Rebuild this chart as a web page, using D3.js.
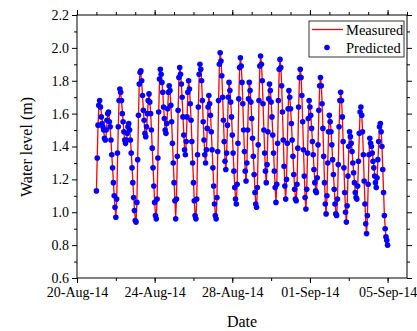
<!DOCTYPE html>
<html>
<head>
<meta charset="utf-8">
<script src="https://cdn.jsdelivr.net/npm/d3@7"></script>
<style>
  body { margin: 0; background: #fff; }
  svg { display: block; font-family: "Liberation Serif", "DejaVu Serif", serif; }
</style>
</head>
<body>
<svg id="chart" width="417" height="331"></svg>
<script>
// hourly water levels, first sample 21-Aug-2014 00:00
const startTime = Date.UTC(2014, 7, 21, 0);

const measured = [
  1.13,1.33,1.53,1.64,1.67,1.65,1.61,1.57,1.53,1.49,1.46,1.44,1.47,1.54,1.59,1.60,1.57,1.51,1.44,1.35,1.27,1.18,1.10,1.03,
  0.97,1.06,1.28,1.51,1.68,1.74,1.72,1.68,1.62,1.55,1.49,1.43,1.40,1.43,1.47,1.51,1.54,1.51,1.45,1.37,1.28,1.19,1.10,1.02,0.96,
  0.94,1.05,1.31,1.58,1.79,1.86,1.84,1.79,1.71,1.63,1.55,1.49,1.45,1.50,1.59,1.67,1.72,1.68,1.61,1.51,1.39,1.28,1.17,1.06,0.99,
  0.96,1.07,1.32,1.60,1.80,1.87,1.85,1.80,1.73,1.65,1.57,1.51,1.47,1.53,1.62,1.72,1.78,1.74,1.66,1.55,1.43,1.31,1.19,1.08,
  0.97,1.08,1.33,1.61,1.81,1.88,1.85,1.78,1.69,1.58,1.48,1.39,1.34,1.42,1.57,1.72,1.80,1.76,1.67,1.57,1.44,1.31,1.19,1.07,0.99,
  0.96,1.07,1.34,1.63,1.83,1.91,1.88,1.80,1.69,1.56,1.45,1.35,1.29,1.37,1.50,1.63,1.71,1.67,1.60,1.50,1.39,1.28,1.16,1.06,0.99,
  0.96,1.08,1.36,1.67,1.89,1.97,1.93,1.84,1.71,1.57,1.43,1.32,1.25,1.35,1.52,1.69,1.79,1.75,1.68,1.59,1.48,1.37,1.26,1.16,1.09,
  1.06,1.17,1.41,1.68,1.87,1.94,1.90,1.80,1.67,1.51,1.37,1.26,1.18,1.29,1.49,1.68,1.79,1.75,1.68,1.58,1.46,1.35,1.24,1.13,1.06,
  1.03,1.14,1.40,1.67,1.88,1.95,1.91,1.81,1.67,1.51,1.37,1.25,1.17,1.28,1.48,1.68,1.79,1.75,1.68,1.59,1.48,1.37,1.26,1.16,
  1.06,1.16,1.41,1.67,1.86,1.93,1.89,1.78,1.62,1.45,1.29,1.16,1.07,1.19,1.41,1.62,1.74,1.71,1.64,1.55,1.45,1.35,1.24,1.15,1.09,
  1.06,1.16,1.38,1.63,1.81,1.87,1.83,1.72,1.56,1.39,1.23,1.10,1.01,1.13,1.35,1.56,1.68,1.65,1.60,1.52,1.44,1.36,1.27,1.19,1.14,
  1.12,1.20,1.40,1.61,1.76,1.82,1.78,1.67,1.52,1.35,1.19,1.06,0.98,1.09,1.29,1.48,1.59,1.56,1.50,1.42,1.33,1.24,1.15,1.06,1.00,
  0.98,1.07,1.28,1.51,1.67,1.73,1.69,1.59,1.44,1.28,1.13,1.01,0.93,1.03,1.21,1.39,1.49,1.47,1.43,1.38,1.31,1.25,1.19,1.13,1.10,
  1.08,1.15,1.30,1.47,1.60,1.64,1.60,1.50,1.36,1.20,1.06,0.94,0.86,0.97,1.16,1.34,1.45,1.43,1.41,1.37,1.32,1.28,1.23,1.19,
  1.15,1.20,1.31,1.42,1.51,1.54,1.50,1.41,1.27,1.13,0.99,0.91,0.85,0.82,0.80
];

const predicted = [
  1.13,1.33,1.53,1.65,1.68,1.64,1.58,1.54,1.52,1.50,1.45,1.44,1.50,1.56,1.60,1.61,1.55,1.52,1.44,1.35,1.27,1.18,1.10,1.03,
  0.97,1.08,1.36,1.52,1.68,1.75,1.73,1.68,1.60,1.55,1.49,1.44,1.42,1.44,1.48,1.52,1.54,1.50,1.44,1.36,1.27,1.18,1.09,1.01,0.95,
  0.94,1.06,1.32,1.59,1.78,1.85,1.86,1.80,1.71,1.62,1.56,1.48,1.46,1.52,1.60,1.68,1.72,1.67,1.60,1.50,1.39,1.27,1.16,1.06,0.98,
  0.96,1.08,1.33,1.61,1.81,1.87,1.84,1.79,1.73,1.64,1.57,1.50,1.48,1.54,1.63,1.73,1.77,1.74,1.65,1.55,1.42,1.30,1.18,1.07,
  0.96,1.08,1.34,1.62,1.82,1.88,1.84,1.78,1.70,1.58,1.47,1.38,1.35,1.43,1.58,1.73,1.80,1.75,1.66,1.56,1.43,1.30,1.18,1.07,0.98,
  0.96,1.08,1.35,1.64,1.84,1.90,1.87,1.80,1.68,1.55,1.44,1.35,1.30,1.38,1.51,1.64,1.71,1.66,1.59,1.49,1.38,1.27,1.16,1.05,0.98,
  0.96,1.09,1.37,1.68,1.90,1.97,1.92,1.83,1.70,1.56,1.43,1.31,1.26,1.36,1.53,1.70,1.79,1.74,1.67,1.58,1.47,1.36,1.25,1.15,1.08,
  1.05,1.17,1.42,1.69,1.88,1.94,1.89,1.79,1.66,1.50,1.37,1.25,1.19,1.30,1.50,1.69,1.79,1.74,1.67,1.57,1.45,1.34,1.23,1.12,1.05,
  1.03,1.15,1.41,1.68,1.89,1.95,1.90,1.80,1.66,1.50,1.36,1.25,1.18,1.29,1.49,1.69,1.78,1.74,1.67,1.58,1.47,1.36,1.25,1.15,
  1.06,1.17,1.42,1.68,1.87,1.93,1.88,1.77,1.61,1.44,1.28,1.16,1.08,1.20,1.42,1.63,1.74,1.70,1.63,1.54,1.44,1.34,1.23,1.14,1.08,
  1.07,1.17,1.39,1.64,1.82,1.87,1.82,1.71,1.55,1.38,1.22,1.09,1.02,1.14,1.36,1.57,1.68,1.64,1.59,1.51,1.43,1.35,1.26,1.18,1.13,
  1.12,1.21,1.41,1.62,1.77,1.82,1.77,1.66,1.51,1.34,1.18,1.05,0.99,1.10,1.30,1.49,1.59,1.55,1.49,1.41,1.32,1.23,1.14,1.05,0.99,
  0.98,1.08,1.29,1.52,1.68,1.73,1.68,1.58,1.43,1.27,1.12,1.00,0.94,1.04,1.22,1.40,1.49,1.46,1.42,1.37,1.30,1.24,1.18,1.12,1.09,
  1.08,1.16,1.31,1.48,1.61,1.64,1.59,1.49,1.35,1.19,1.05,0.93,0.87,0.98,1.17,1.35,1.45,1.42,1.40,1.36,1.31,1.27,1.22,1.18,
  1.15,1.21,1.32,1.43,1.52,1.54,1.49,1.40,1.26,1.12,0.98,0.90,0.85,0.83,0.80
];

const xTickDates = ['2014-08-20', '2014-08-24', '2014-08-28', '2014-09-01', '2014-09-05'];
const yTicks = [0.6, 0.8, 1.0, 1.2, 1.4, 1.6, 1.8, 2.0, 2.2];
const seriesNames = ['Measured', 'Predicted'];

const plotLeft = 77, plotRight = 407, plotTop = 15, plotBottom = 278;

const svg = d3.select('#chart');

const x = d3.scaleUtc()
  .domain([Date.UTC(2014, 7, 20), Date.UTC(2014, 8, 6)])
  .range([plotLeft, plotRight]);
const y = d3.scaleLinear().domain([0.6, 2.2]).range([plotBottom, plotTop]);

const hour = 3600 * 1000;
const timeOf = i => new Date(startTime + i * hour);

// tick positions
const majorX = xTickDates.map(s => new Date(s + 'T00:00:00Z'));
const allDays = d3.utcDay.range(x.domain()[0], new Date(+x.domain()[1] + 1));
const minorX = allDays.filter((d, i) => i % 2 === 0);
const minorY = yTicks.slice(1).map(v => +(v - 0.1).toFixed(1));
const fmt = d3.utcFormat('%d-%b-%y');

function styleAxis(g) {
  g.select('.domain').remove();
  g.selectAll('line').attr('stroke', '#000').attr('stroke-width', 1);
  g.selectAll('text').attr('fill', '#000').style('font-size', '14px')
    .style('font-family', '"Liberation Serif", "DejaVu Serif", serif');
}

// minor ticks
svg.append('g').attr('transform', `translate(0,${plotBottom})`)
  .call(d3.axisBottom(x).tickValues(minorX).tickSize(3).tickFormat(''))
  .call(styleAxis);
svg.append('g').attr('transform', `translate(0,${plotTop})`)
  .call(d3.axisTop(x).tickValues(allDays).tickSize(3).tickFormat(''))
  .call(styleAxis);
svg.append('g').attr('transform', `translate(${plotLeft},0)`)
  .call(d3.axisLeft(y).tickValues(minorY).tickSize(3).tickFormat(''))
  .call(styleAxis);
svg.append('g').attr('transform', `translate(${plotRight},0)`)
  .call(d3.axisRight(y).tickValues(minorY).tickSize(3).tickFormat(''))
  .call(styleAxis);

// major ticks
svg.append('g').attr('transform', `translate(0,${plotBottom})`)
  .call(d3.axisBottom(x).tickValues(majorX).tickSize(5).tickPadding(4).tickFormat(fmt))
  .call(styleAxis);
svg.append('g').attr('transform', `translate(0,${plotTop})`)
  .call(d3.axisTop(x).tickValues(majorX).tickSize(5).tickFormat(''))
  .call(styleAxis);
svg.append('g').attr('transform', `translate(${plotLeft},0)`)
  .call(d3.axisLeft(y).tickValues(yTicks).tickSize(5).tickPadding(3).tickFormat(d3.format('.1f')))
  .call(styleAxis);
svg.append('g').attr('transform', `translate(${plotRight},0)`)
  .call(d3.axisRight(y).tickValues(yTicks).tickSize(5).tickFormat(''))
  .call(styleAxis);

// frame
svg.append('rect')
  .attr('x', plotLeft).attr('y', plotTop)
  .attr('width', plotRight - plotLeft).attr('height', plotBottom - plotTop)
  .attr('fill', 'none').attr('stroke', '#000').attr('stroke-width', 1);

// measured line
const line = d3.line()
  .x((d, i) => x(timeOf(i)))
  .y(d => y(d));

svg.append('path')
  .datum(measured)
  .attr('d', line)
  .attr('fill', 'none')
  .attr('stroke', '#ff0000')
  .attr('stroke-width', 1.3);

// predicted points
svg.append('g').selectAll('circle')
  .data(predicted)
  .enter().append('circle')
  .attr('cx', (d, i) => x(timeOf(i)))
  .attr('cy', d => y(d))
  .attr('r', 2.8)
  .attr('fill', '#0000ff');

// axis titles
svg.append('text')
  .attr('x', 242).attr('y', 327)
  .attr('text-anchor', 'middle')
  .style('font-size', '16px')
  .text('Date');

svg.append('text')
  .attr('transform', 'translate(32,147) rotate(-90)')
  .attr('text-anchor', 'middle')
  .style('font-size', '16px')
  .text('Water level (m)');

// legend
const legend = svg.append('g');
legend.append('rect')
  .attr('x', 309).attr('y', 21).attr('width', 95).attr('height', 36)
  .attr('fill', '#fff').attr('stroke', '#000').attr('stroke-width', 0.8);
legend.append('line')
  .attr('x1', 312).attr('x2', 343).attr('y1', 29.5).attr('y2', 29.5)
  .attr('stroke', '#ff0000').attr('stroke-width', 1.3);
legend.append('circle')
  .attr('cx', 327).attr('cy', 47.5).attr('r', 2.8).attr('fill', '#0000ff');
legend.selectAll('text.lg')
  .data(seriesNames)
  .enter().append('text')
  .attr('class', 'lg')
  .attr('x', 346)
  .attr('y', (d, i) => 34.5 + i * 18)
  .style('font-size', '14.5px')
  .text(d => d);
</script>
</body>
</html>
